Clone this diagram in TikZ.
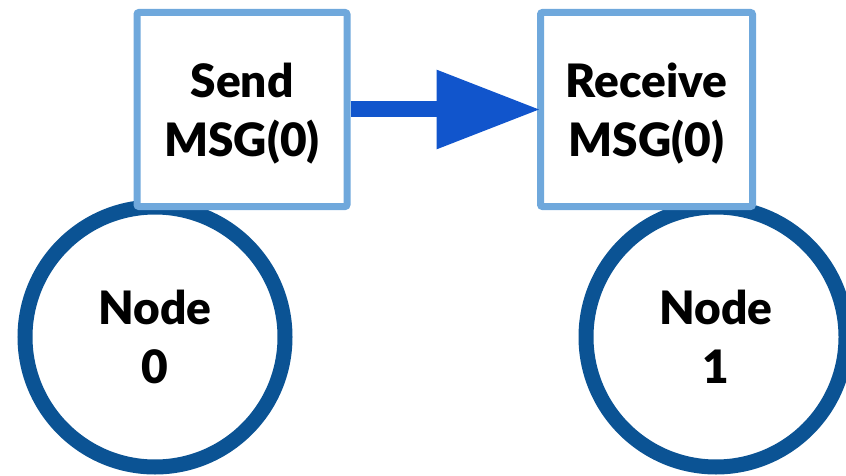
\documentclass[tikz,border=0pt]{standalone}
\usepackage{fontspec}
\setmainfont{Lato}[BoldFont={Lato Black}]
\usetikzlibrary{arrows.meta}
\definecolor{boxedge}{HTML}{6FA8DC}
\definecolor{ringedge}{HTML}{0B5394}
\definecolor{arrowblue}{HTML}{1155CC}
\tikzset{
  labeltext/.style={font=\fontsize{46}{59}\selectfont\bfseries, align=center, text=black},
  msgbox/.style={draw=boxedge, fill=white, line width=7pt, rounded corners=2pt,
    minimum height=194pt, inner sep=0pt},
  msgtext/.style={label={[labeltext, yshift=-4pt]center:#1}},
  ring/.style={labeltext, circle, draw=ringedge, fill=white, line width=15pt,
    minimum size=260pt, inner sep=0pt},
  flow/.style={draw=arrowblue, line width=16pt,
    -{Triangle[length=104pt, width=75pt]}}
}
\begin{document}
\begin{tikzpicture}[x=1pt, y=-1pt]
  \useasboundingbox (0,0) rectangle (846,476);
  % processes
  \node[ring] (n0) at (155,337) {Node\\0};
  \node[ring] (n1) at (716,337) {Node\\1};
  % message events, drawn over the rings
  \node[msgbox, minimum width=210pt, msgtext={Send\\MSG(0)}] (send) at (242,109.5) {};
  \node[msgbox, minimum width=212pt, msgtext={Receive\\MSG(0)}] (recv) at (646.5,109.5) {};
  % message transfer
  \draw[flow, shorten >=-3.5pt] (send.east) -- (recv.west);
\end{tikzpicture}
\end{document}
